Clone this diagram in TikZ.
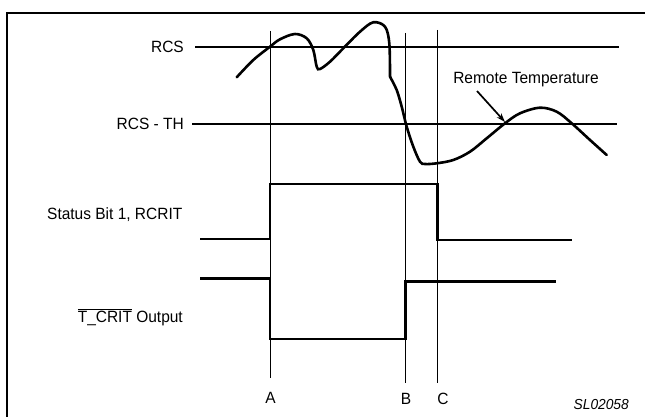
\documentclass[tikz,border=0pt]{standalone}
\usepackage{fontspec}
\setmainfont{Liberation Sans}[FakeStretch=0.95]
\usetikzlibrary{arrows.meta}
\begin{document}
\begin{tikzpicture}[x=1pt,y=-1pt,
  thickline/.style={line width=2.6pt,line join=miter},
  thinline/.style={line width=0.9pt},
  lbl/.style={inner sep=0pt,font=\fontsize{16.3}{19}\selectfont},
  ptr/.style={line width=1.7pt,-{Stealth[length=9pt,width=6pt]}}]
\useasboundingbox (0,0) rectangle (645,417);
% frame
\draw[line width=2.6pt] (7,425) -- (7,13) -- (660,13);
% level lines
\coordinate (rcsL) at (195,47);   \coordinate (rcsR) at (619,47);
\coordinate (thL) at (192,124);   \coordinate (thR) at (617,124);
\draw[thickline] (rcsL) -- (rcsR);
\draw[thickline] (thL) -- (thR);
% labels
\node[lbl,anchor=east] (rcs) at (184,47) {RCS};
\node[lbl,anchor=east] (rcsth) at (184,124) {RCS - TH};
\node[lbl,anchor=east] (status) at (182.5,215) {Status Bit 1, RCRIT};
\node[lbl,anchor=east] (tcrit) at (183,317) {$\overline{\mbox{T\_CRIT}}$ Output};
% vertical time markers
\coordinate (Atop) at (270,31);   \coordinate (Abot) at (270,378);
\coordinate (Btop) at (405.5,33); \coordinate (Bbot) at (405.5,383);
\coordinate (Ctop) at (437.5,30); \coordinate (Cbot) at (437.5,383);
\draw[thinline] (Atop) -- (Abot);
\draw[thinline] (Btop) -- (Bbot);
\draw[thinline] (Ctop) -- (Cbot);
\node[lbl] (A) at (270.5,398) {A};
\node[lbl] (B) at (406,399) {B};
\node[lbl] (C) at (443,399) {C};
% temperature curve
\draw[thickline,line cap=round] plot[smooth,tension=0.55] coordinates {
  (236.7,77.3) (253.3,60) (270,46.7) (280,39.3) (295,34) (306.7,38.3)
  (313.3,50) (316.7,66.7) (320,69) (330,61.7) (343.3,48.3) (360,31.7)
  (373.3,22.3) (385,26.7) (389.3,43.3) (390,76.7)};
\draw[thickline,line cap=round] plot[smooth,tension=0.55] coordinates {
  (390,76.7) (396.7,90) (401.7,106.7) (406.7,126.7) (413.3,146.7)
  (420,161.7) (425,164) (436.7,163.3) (453.3,160) (470,151.7)
  (486.7,138.3) (505,123.3) (520,113.3) (540,107.7) (556.7,111.7)
  (571.7,123.3) (590,140) (606.7,155)};
% remote temperature pointer
\node[lbl] (remote) at (526,80) {Remote Temperature};
\coordinate (ptrS) at (477,91);
\coordinate (ptrE) at (505,122);
\draw[ptr] (ptrS) -- (ptrE);
% status bit waveform
\coordinate (s1) at (200,239); \coordinate (s2) at (270,239);
\coordinate (s3) at (270,184); \coordinate (s4) at (437.5,184);
\coordinate (s5) at (437.5,240); \coordinate (s6) at (572,240);
\draw[thickline] (s1) -- (s2) -- (s3) -- (s4) -- (s5) -- (s6);
% T_CRIT waveform
\coordinate (t1) at (200,278.5); \coordinate (t2) at (270,278.5);
\coordinate (t3) at (270,339); \coordinate (t4) at (405.5,339);
\coordinate (t5) at (405.5,281.5); \coordinate (t6) at (556,281.5);
\draw[thickline] (t1) -- (t2) -- (t3) -- (t4) -- (t5) -- (t6);
% figure id
\node[lbl,anchor=east,font=\fontsize{14.5}{17}\selectfont\itshape] (sl) at (629,405) {SL02058};
\end{tikzpicture}
\end{document}
